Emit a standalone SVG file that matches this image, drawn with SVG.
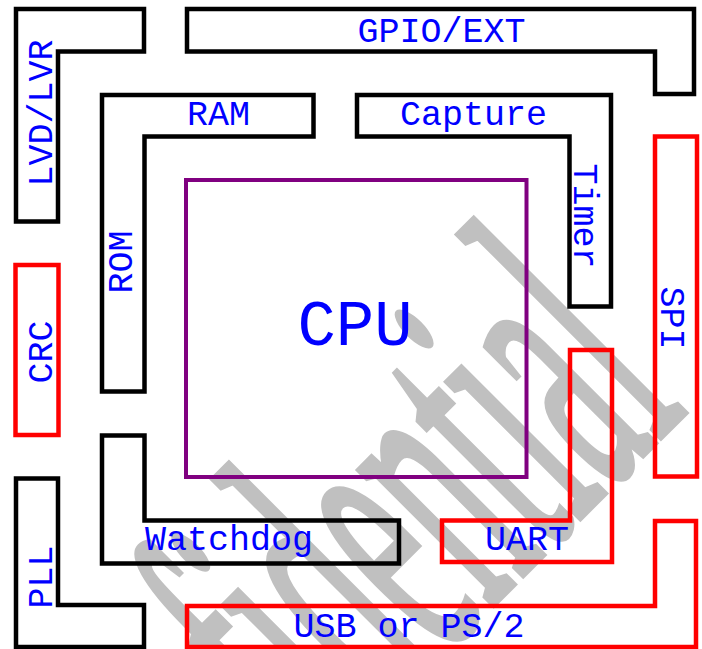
<svg xmlns="http://www.w3.org/2000/svg" width="702" height="649" viewBox="0 0 702 649">
<style>
.blk{fill:none;stroke:#000;stroke-width:4.5}
.red{fill:none;stroke:#ff0000;stroke-width:4.5}
.cpu{fill:none;stroke:#800080;stroke-width:4}
.lbl{font-family:"Liberation Mono","Courier New",monospace;font-size:35px;fill:#0000ff;text-anchor:middle}
.wm{font-family:"Liberation Serif","Times New Roman",serif;font-size:158px;fill:#c0c0c0;stroke:#c0c0c0;stroke-width:3;text-anchor:end}
</style>
<rect width="702" height="649" fill="#fff"/>
<text class="wm" transform="translate(688,409) rotate(-45) scale(1,2.6)">Confidential</text>
<g id="lvd"><path class="blk" d="M16,9H144V51.5H58V221.5H16Z"/><text class="lbl" transform="translate(52,113) rotate(-90)">LVD/LVR</text></g>
<g id="gpio"><path class="blk" d="M187,9H694V94H655V51.5H187Z"/><text class="lbl" x="441.5" y="42">GPIO/EXT</text></g>
<g id="ramrom"><path class="blk" d="M102,95H313.5V136.5H144.5V391.5H102Z"/><text class="lbl" x="218.5" y="125">RAM</text><text class="lbl" transform="translate(132,262) rotate(-90)">ROM</text></g>
<g id="capture"><path class="blk" d="M357,95H611V306.5H569.5V136.5H357Z"/><text class="lbl" x="473.5" y="125">Capture</text><text class="lbl" transform="translate(574,216) rotate(90)">Timer</text></g>
<g id="crc"><rect class="red" x="15.5" y="265" width="43" height="170"/><text class="lbl" transform="translate(52,352) rotate(-90)">CRC</text></g>
<g id="spi"><rect class="red" x="655" y="136.5" width="42" height="340"/><text class="lbl" transform="translate(661,318) rotate(90)">SPI</text></g>
<g id="cpu"><rect class="cpu" x="186" y="180" width="340.5" height="297"/><text class="lbl" x="355" y="345" style="font-size:64px">CPU</text></g>
<g id="uart"><path class="red" d="M570,350H612V562H442V520.5H570Z"/><text class="lbl" x="527" y="550">UART</text></g>
<g id="watchdog"><path class="blk" d="M102,435.5H144.5V520.5H399V563.5H102Z"/><text class="lbl" x="229" y="550">Watchdog</text></g>
<g id="pll"><path class="blk" d="M16,478.5H58V605H144V647H16Z"/><text class="lbl" transform="translate(52,577) rotate(-90)">PLL</text></g>
<g id="usb"><path class="red" d="M187,606H655V521H696V647H187Z"/><text class="lbl" x="409" y="637">USB or PS/2</text></g>
<g id="connectors"/>
</svg>
